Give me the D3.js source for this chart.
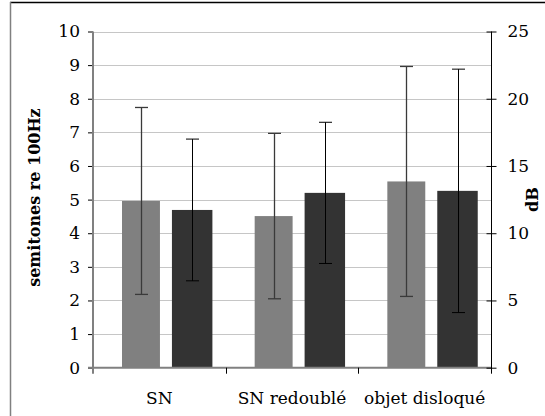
<!DOCTYPE html>
<html>
<head>
<meta charset="utf-8">
<script src="https://cdn.jsdelivr.net/npm/d3@7"></script>
<style>
  html, body { margin: 0; padding: 0; background: #fff; }
  svg text { font-family: "DejaVu Serif", serif; fill: #000; }
</style>
</head>
<body>
<svg id="chart" width="545" height="416"></svg>
<script>
// categories and values
const categories    = ["SN", "SN redoublé", "objet disloqué"];
const semitoneMeans = [4.96, 4.51, 5.54];   // left axis, light bars
const semitoneSD    = [2.78, 2.46, 3.42];
const dbMeans       = [11.73, 13.0, 13.15]; // right axis, dark bars
const dbSD          = [5.27, 5.25, 9.05];
const leftTicks     = [0, 1, 2, 3, 4, 5, 6, 7, 8, 9, 10];
const rightTicks    = [0, 5, 10, 15, 20, 25];

const svg = d3.select("#chart");

const plotLeft = 93, plotRight = 491, plotTop = 31.5, plotBottom = 367.7;

const x  = d3.scaleBand().domain(categories).range([plotLeft, plotRight]);
const yL = d3.scaleLinear().domain([0, 10]).range([plotBottom, plotTop]);
const yR = d3.scaleLinear().domain([0, 25]).range([plotBottom, plotTop]);
const bw = x.bandwidth();

// outer frame (only top and left edges visible)
svg.append("line").attr("x1", 10).attr("x2", 545).attr("y1", 2.5).attr("y2", 2.5)
  .attr("stroke", "#000").attr("stroke-width", 1.5);
svg.append("line").attr("x1", 10.5).attr("x2", 10.5).attr("y1", 2).attr("y2", 416)
  .attr("stroke", "#808080").attr("stroke-width", 1.5);

// gridlines
svg.append("g").selectAll("line")
  .data(leftTicks.filter(d => d > 0))
  .join("line")
  .attr("x1", plotLeft).attr("x2", plotRight)
  .attr("y1", d => Math.round(yL(d)) + 0.5).attr("y2", d => Math.round(yL(d)) + 0.5)
  .attr("stroke", "#c6c6c6").attr("stroke-width", 1);

// bars
const rows = categories.map((c, i) => ({
  cat: c,
  semi: semitoneMeans[i], semiSD: semitoneSD[i],
  db: dbMeans[i], dbSD: dbSD[i]
}));

const lightX = d => x(d.cat) + 0.2186 * bw, lightW = 0.286 * bw;
const darkX  = d => x(d.cat) + 0.595 * bw,  darkW  = 0.305 * bw;

svg.append("g").selectAll("rect")
  .data(rows)
  .join("rect")
  .attr("x", lightX)
  .attr("width", lightW)
  .attr("y", d => yL(d.semi))
  .attr("height", d => yL(0) - yL(d.semi))
  .attr("fill", "#808080");

svg.append("g").selectAll("rect")
  .data(rows)
  .join("rect")
  .attr("x", darkX)
  .attr("width", darkW)
  .attr("y", d => yR(d.db))
  .attr("height", d => yR(0) - yR(d.db))
  .attr("fill", "#333333");

// error bars
function errorBars(cx, lo, hi, color, width) {
  const g = svg.append("g").attr("stroke", color).attr("stroke-width", width);
  rows.forEach(d => {
    const xc = Math.round(cx(d)) + 0.5;
    g.append("line").attr("x1", xc).attr("x2", xc).attr("y1", lo(d)).attr("y2", hi(d));
    [lo(d), hi(d)].forEach(yv => {
      g.append("line").attr("x1", xc - 6.5).attr("x2", xc + 6.5).attr("y1", yv).attr("y2", yv);
    });
  });
}
errorBars(d => lightX(d) + lightW / 2,
  d => yL(d.semi - d.semiSD), d => yL(d.semi + d.semiSD), "#3a3a3a", 1.3);
errorBars(d => darkX(d) + darkW / 2,
  d => yR(d.db - d.dbSD), d => yR(d.db + d.dbSD), "#000", 1);

// left axis
const gL = svg.append("g")
  .attr("transform", `translate(${plotLeft},0)`)
  .call(d3.axisLeft(yL).tickValues(leftTicks).tickSize(5).tickSizeOuter(0).tickPadding(8));
gL.select(".domain").remove();
gL.selectAll(".tick line").attr("stroke", "#000");
gL.selectAll("text").style("font-size", "17px");

// bottom axis line and category ticks
const bottomY = plotBottom;
svg.append("line").attr("x1", plotLeft - 5).attr("x2", plotRight).attr("y1", bottomY).attr("y2", bottomY)
  .attr("stroke", "#808080").attr("stroke-width", 2);
svg.append("line").attr("x1", plotLeft).attr("x2", plotLeft).attr("y1", plotTop).attr("y2", bottomY + 6)
  .attr("stroke", "#808080").attr("stroke-width", 2);
svg.append("g").selectAll("line")
  .data(categories.slice(1))
  .join("line")
  .attr("x1", d => Math.round(x(d)) + 0.5).attr("x2", d => Math.round(x(d)) + 0.5)
  .attr("y1", bottomY).attr("y2", bottomY + 6)
  .attr("stroke", "#000").attr("stroke-width", 1);

const gB = svg.append("g")
  .attr("transform", `translate(0,${bottomY})`)
  .call(d3.axisBottom(x).tickSize(0).tickPadding(24));
gB.select(".domain").remove();
gB.selectAll("text").style("font-size", "17px");

// right axis
const gR = svg.append("g")
  .attr("transform", `translate(${plotRight + 0.5},0)`)
  .call(d3.axisRight(yR).tickValues(rightTicks).tickSize(5).tickSizeOuter(0).tickPadding(11));
gR.select(".domain").attr("stroke", "#000").attr("d", `M0,${plotTop}V${bottomY + 6}`);
gR.selectAll(".tick line").attr("x1", -5).attr("stroke", "#000");
gR.selectAll("text").style("font-size", "17px");

// axis titles
svg.append("text")
  .attr("transform", `translate(40,${(plotTop + plotBottom) / 2 - 2}) rotate(-90)`)
  .attr("text-anchor", "middle")
  .style("font-size", "16px").style("font-weight", "bold")
  .text("semitones re 100Hz");

svg.append("text")
  .attr("transform", `translate(538,${(plotTop + plotBottom) / 2}) rotate(-90)`)
  .attr("text-anchor", "middle")
  .style("font-size", "16px").style("font-weight", "bold")
  .text("dB");
</script>
</body>
</html>
